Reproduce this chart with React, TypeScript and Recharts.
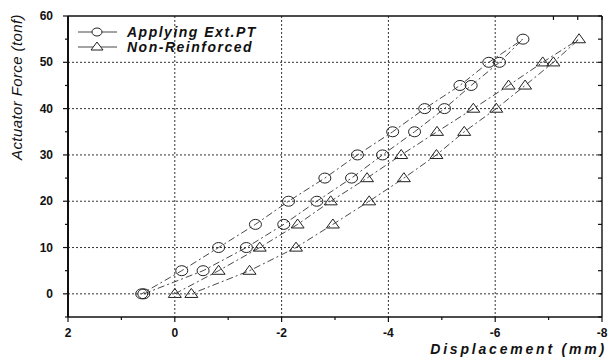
import { LineChart, Line, XAxis, YAxis, CartesianGrid } from 'recharts'

// Applying Ext.PT loop: loading branch up to 55 tonf, then unloading back to 0
const extPtDisp = [0.58, -0.53, -1.34, -2.04, -2.66, -3.31, -3.89, -4.49, -5.05, -5.55, -6.08, -6.52, -5.88, -5.34, -4.68, -4.08, -3.42, -2.81, -2.13, -1.51, -0.82, -0.13, 0.62]
const extPtForce = [0, 5, 10, 15, 20, 25, 30, 35, 40, 45, 50, 55, 50, 45, 40, 35, 30, 25, 20, 15, 10, 5, 0]

// Non-Reinforced loop
const nonReinfDisp = [0, -0.82, -1.59, -2.3, -2.92, -3.6, -4.24, -4.91, -5.59, -6.25, -6.89, -7.57, -7.09, -6.56, -6.02, -5.42, -4.9, -4.29, -3.64, -2.96, -2.27, -1.4, -0.31]
const nonReinfForce = [0, 5, 10, 15, 20, 25, 30, 35, 40, 45, 50, 55, 50, 45, 40, 35, 30, 25, 20, 15, 10, 5, 0]

const xTicks = [2, 1, 0, -1, -2, -3, -4, -5, -6, -7, -8]
const xMajor = [2, 0, -2, -4, -6, -8]
const yTicks = [-5, 0, 5, 10, 15, 20, 25, 30, 35, 40, 45, 50, 55, 60]
const yMajor = [0, 10, 20, 30, 40, 50, 60]
const gridX = [0, -2, -4, -6]
const gridY = [0, 10, 20, 30, 40, 50]

const extPtData = extPtDisp.map((x, i) => ({ x, y: extPtForce[i] }))
const nonReinfData = nonReinfDisp.map((x, i) => ({ x, y: nonReinfForce[i] }))

const FONT = '"Liberation Sans", Arial, sans-serif'
const INK = '#111'
const LINE_DASH = '7 3 2 3'

const CircleDot = (props: any) => {
  const { cx, cy, index } = props
  if (cx == null || cy == null) return null
  return <ellipse key={index} cx={cx} cy={cy} rx={6} ry={5} fill="none" stroke="#222" strokeWidth={1} />
}

const TriangleDot = (props: any) => {
  const { cx, cy, index } = props
  if (cx == null || cy == null) return null
  const w = 6.5
  const h = 9
  return (
    <path
      key={index}
      d={`M${cx},${cy - h * 0.6} L${cx + w},${cy + h * 0.4} L${cx - w},${cy + h * 0.4} Z`}
      fill="none"
      stroke="#222"
      strokeWidth={1}
    />
  )
}

// tick renderers: tickSize/tickMargin are 0, so x/y is the point on the axis line
const LeftTick = (props: any) => {
  const { x, y, payload } = props
  const major = yMajor.includes(payload.value)
  return (
    <g>
      <line x1={x} x2={x - (major ? 5 : 3)} y1={y} y2={y} stroke={INK} strokeWidth={1.2} />
      {major && (
        <text x={x - 15} y={y} textAnchor="end" dominantBaseline="central" fontFamily={FONT} fontWeight="bold" fontSize={12} fill={INK}>
          {payload.value}
        </text>
      )}
    </g>
  )
}

const BottomTick = (props: any) => {
  const { x, y, payload } = props
  const major = xMajor.includes(payload.value)
  return (
    <g>
      <line x1={x} x2={x} y1={y} y2={y + (major ? 5 : 3)} stroke={INK} strokeWidth={1.2} />
      {major && (
        <text x={x} y={y + 20} textAnchor="middle" fontFamily={FONT} fontWeight="bold" fontSize={12} fill={INK}>
          {payload.value}
        </text>
      )}
    </g>
  )
}

const TopTick = (props: any) => {
  const { x, y } = props
  return <line x1={x} x2={x} y1={y} y2={y + 4} stroke={INK} strokeWidth={1.2} />
}

const RightTick = (props: any) => {
  const { x, y } = props
  return <line x1={x} x2={x - 4} y1={y} y2={y} stroke={INK} strokeWidth={1.2} />
}

function LegendRow({ label, marker }: { label: string; marker: 'circle' | 'triangle' }) {
  return (
    <div style={{ display: 'flex', alignItems: 'center', height: 15 }}>
      <svg width={42} height={14} style={{ marginRight: 8 }}>
        <line x1={1} x2={40} y1={7} y2={7} stroke="#333" strokeWidth={0.9} />
        {marker === 'circle' ? (
          <ellipse cx={20} cy={7} rx={5} ry={4} fill="#fff" stroke="#222" strokeWidth={1} />
        ) : (
          <path d="M20,2 L26,10 L14,10 Z" fill="#fff" stroke="#222" strokeWidth={1} />
        )}
      </svg>
      <span style={{ fontFamily: FONT, fontWeight: 'bold', fontStyle: 'italic', fontSize: 14, letterSpacing: 1.5, color: INK }}>
        {label}
      </span>
    </div>
  )
}

export default function App() {
  return (
    <div style={{ position: 'absolute', left: 0, top: 0, width: 608, height: 360, background: '#fff' }}>
      <LineChart width={608} height={360} data={extPtData} margin={{ top: 15, right: 5, bottom: 0, left: 0 }}>
        <CartesianGrid
          horizontalValues={gridY}
          verticalValues={gridX}
          stroke="#333"
          strokeWidth={1}
          strokeDasharray="2 2"
        />
        <XAxis
          dataKey="x"
          type="number"
          domain={[-8, 2]}
          reversed
          ticks={xTicks}
          interval={0}
          height={43}
          tickSize={0}
          tickMargin={0}
          tick={<BottomTick />}
          axisLine={{ stroke: INK, strokeWidth: 1.6 }}
          allowDataOverflow
        />
        <XAxis
          xAxisId="top"
          orientation="top"
          type="number"
          domain={[-8, 2]}
          reversed
          ticks={xTicks}
          interval={0}
          height={1}
          tickSize={0}
          tickMargin={0}
          tick={<TopTick />}
          axisLine={{ stroke: INK, strokeWidth: 1.4 }}
          allowDataOverflow
        />
        <YAxis
          type="number"
          domain={[-5, 60]}
          ticks={yTicks}
          interval={0}
          width={68}
          tickSize={0}
          tickMargin={0}
          tick={<LeftTick />}
          axisLine={{ stroke: INK, strokeWidth: 2 }}
          allowDataOverflow
        />
        <YAxis
          yAxisId="right"
          orientation="right"
          type="number"
          domain={[-5, 60]}
          ticks={yTicks}
          interval={0}
          width={1}
          tickSize={0}
          tickMargin={0}
          tick={<RightTick />}
          axisLine={{ stroke: INK, strokeWidth: 1.4 }}
          allowDataOverflow
        />
        <Line
          data={extPtData}
          dataKey="y"
          type="linear"
          stroke="#333"
          strokeWidth={0.9}
          strokeDasharray={LINE_DASH}
          dot={<CircleDot />}
          activeDot={false}
          isAnimationActive={false}
        />
        <Line
          data={nonReinfData}
          dataKey="y"
          type="linear"
          stroke="#333"
          strokeWidth={0.9}
          strokeDasharray={LINE_DASH}
          dot={<TriangleDot />}
          activeDot={false}
          isAnimationActive={false}
        />
      </LineChart>

      <div style={{ position: 'absolute', left: 77, top: 24 }}>
        <LegendRow label="Applying Ext.PT" marker="circle" />
        <LegendRow label="Non-Reinforced" marker="triangle" />
      </div>

      <div
        style={{
          position: 'absolute',
          left: 16,
          top: 87,
          transform: 'translate(-50%, -50%) rotate(-90deg)',
          whiteSpace: 'nowrap',
          fontFamily: FONT,
          fontStyle: 'italic',
          fontSize: 15,
          letterSpacing: 0.4,
          color: INK,
        }}
      >
        Actuator Force (tonf)
      </div>

      <div
        style={{
          position: 'absolute',
          right: 1,
          top: 341,
          whiteSpace: 'nowrap',
          fontFamily: FONT,
          fontStyle: 'italic',
          fontWeight: 'bold',
          fontSize: 14,
          letterSpacing: 2.8,
          color: INK,
        }}
      >
        Displacement (mm)
      </div>
    </div>
  )
}
